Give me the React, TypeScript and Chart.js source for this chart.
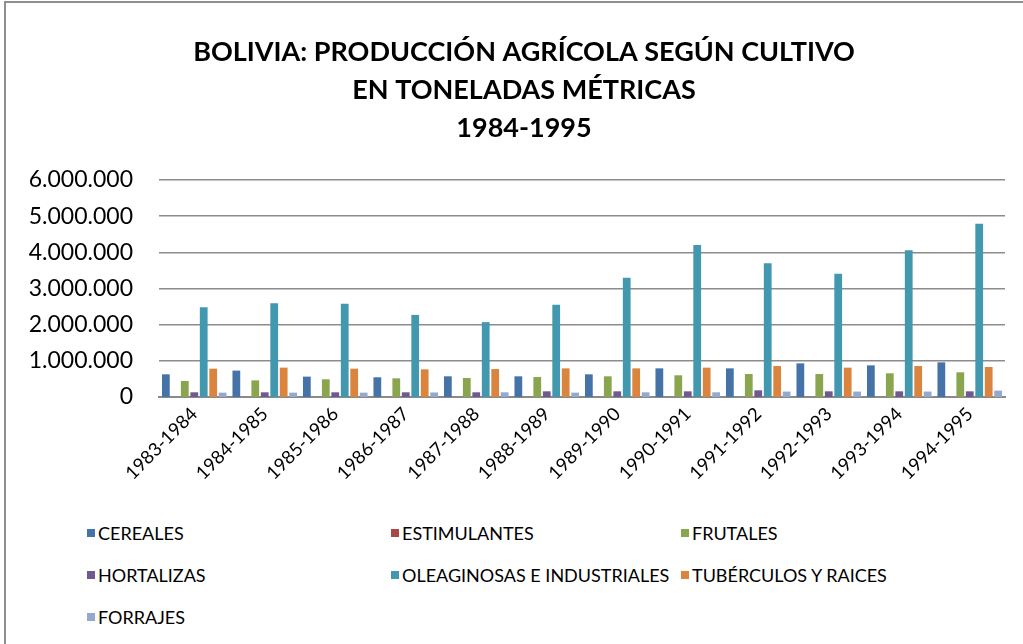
import React, { useEffect, useRef } from "react";
import { Chart, registerables } from "chart.js";

Chart.register(...registerables);

const categories = [
  "1983-1984", "1984-1985", "1985-1986", "1986-1987", "1987-1988", "1988-1989",
  "1989-1990", "1990-1991", "1991-1992", "1992-1993", "1993-1994", "1994-1995",
];
const cereales = [627000, 730000, 563000, 545000, 572000, 572000, 627000, 792000, 792000, 930000, 875000, 958000];
const estimulantes = [0, 0, 0, 0, 0, 0, 0, 0, 0, 0, 0, 0];
const frutales = [442000, 460000, 490000, 516000, 525000, 552000, 572000, 600000, 635000, 635000, 655000, 683000];
const hortalizas = [130000, 130000, 130000, 130000, 130000, 157000, 157000, 157000, 185000, 157000, 157000, 157000];
const oleaginosas = [2480000, 2590000, 2580000, 2270000, 2070000, 2550000, 3300000, 4200000, 3700000, 3410000, 4060000, 4790000];
const tuberculos = [783000, 812000, 783000, 765000, 773000, 792000, 792000, 812000, 856000, 812000, 856000, 830000];
const forrajes = [120000, 120000, 120000, 125000, 130000, 120000, 130000, 130000, 150000, 150000, 150000, 177000];

const seriesNames = [
  "CEREALES", "ESTIMULANTES", "FRUTALES", "HORTALIZAS",
  "OLEAGINOSAS E INDUSTRIALES", "TUBÉRCULOS Y RAICES", "FORRAJES",
];
const seriesData = [cereales, estimulantes, frutales, hortalizas, oleaginosas, tuberculos, forrajes];
const seriesColors = ["#4572A7", "#AA4643", "#89A54E", "#71588F", "#4198AF", "#DB843D", "#93A9CF"];

const titleLines = [
  "BOLIVIA: PRODUCCIÓN AGRÍCOLA SEGÚN CULTIVO",
  "EN TONELADAS MÉTRICAS",
  "1984-1995",
];

const yMax = 6000000;
const yStep = 1000000;

const fmt = (v: number) => String(Math.round(v)).replace(/\B(?=(\d{3})+(?!\d))/g, ".");

const FONT = "Lato, 'Open Sans', sans-serif";
const CANVAS_H = 510;

const titlePlugin = {
  id: "centeredTitle",
  afterDraw(chart: any) {
    const ctx = chart.ctx;
    ctx.save();
    ctx.fillStyle = "#000";
    ctx.font = `bold 27px ${FONT}`;
    ctx.textAlign = "center";
    ctx.textBaseline = "middle";
    titleLines.forEach((line, i) => {
      ctx.fillText(line, 524, 52 + i * 38);
    });
    ctx.restore();
  },
};

export default function App() {
  const ref = useRef<HTMLCanvasElement | null>(null);

  useEffect(() => {
    if (!ref.current) return;
    const chart = new Chart(ref.current, {
      type: "bar",
      data: {
        labels: categories,
        datasets: seriesNames.map((name, i) => ({
          label: name,
          data: seriesData[i],
          backgroundColor: seriesColors[i],
          borderWidth: 0,
          categoryPercentage: 0.94,
          barPercentage: 0.82,
        })),
      },
      options: {
        animation: false,
        responsive: false,
        maintainAspectRatio: false,
        layout: { padding: { left: 0, right: 18, top: 180, bottom: 0 } },
        plugins: {
          legend: { display: false },
          tooltip: { enabled: false },
          title: { display: false },
        },
        scales: {
          x: {
            grid: { display: false, drawTicks: false },
            border: { display: true, color: "#8a8a8a", width: 2 },
            ticks: {
              color: "#000",
              font: { family: FONT, size: 18.5 },
              maxRotation: 45,
              minRotation: 45,
              padding: 6,
              autoSkip: false,
            },
            afterFit: (s: any) => {
              s.height = CANVAS_H - 397;
            },
          },
          y: {
            min: 0,
            max: yMax,
            grid: {
              drawTicks: false,
              color: "#8c8c8c",
              lineWidth: (ctx: any) => (ctx.tick && ctx.tick.value === 0 ? 0 : 1.5),
            },
            border: { display: false },
            ticks: {
              stepSize: yStep,
              color: "#000",
              font: { family: FONT, size: 23 },
              padding: 26,
              callback: (v: any) => fmt(Number(v)),
            },
            afterFit: (s: any) => {
              s.width = 159;
            },
          },
        },
      },
      plugins: [titlePlugin],
    });
    return () => chart.destroy();
  }, []);

  const legendCols = [87, 391, 681];
  const legendRows = [533, 575, 617];

  return (
    <div style={{ position: "fixed", left: 0, top: 0, width: 1023, height: 644, overflow: "hidden", background: "#fff" }}>
      <div
        style={{
          position: "absolute",
          left: 4,
          top: 1,
          width: 1040,
          height: 700,
          borderLeft: "2px solid #8f8f8f",
          borderTop: "2px solid #8f8f8f",
          boxSizing: "border-box",
        }}
      />
      <canvas ref={ref} width={1023} height={CANVAS_H} style={{ position: "absolute", left: 0, top: 0 }} />
      {seriesNames.map((name, i) => {
        const col = i % 3;
        const row = Math.floor(i / 3);
        return (
          <div
            key={name}
            style={{
              position: "absolute",
              left: legendCols[col],
              top: legendRows[row] - 11,
              height: 22,
              display: "flex",
              alignItems: "center",
              fontFamily: FONT,
              fontSize: 18,
              color: "#000",
              whiteSpace: "nowrap",
            }}
          >
            <span style={{ display: "inline-block", width: 8, height: 8, background: seriesColors[i], marginRight: 3 }} />
            <span>{name}</span>
          </div>
        );
      })}
    </div>
  );
}
